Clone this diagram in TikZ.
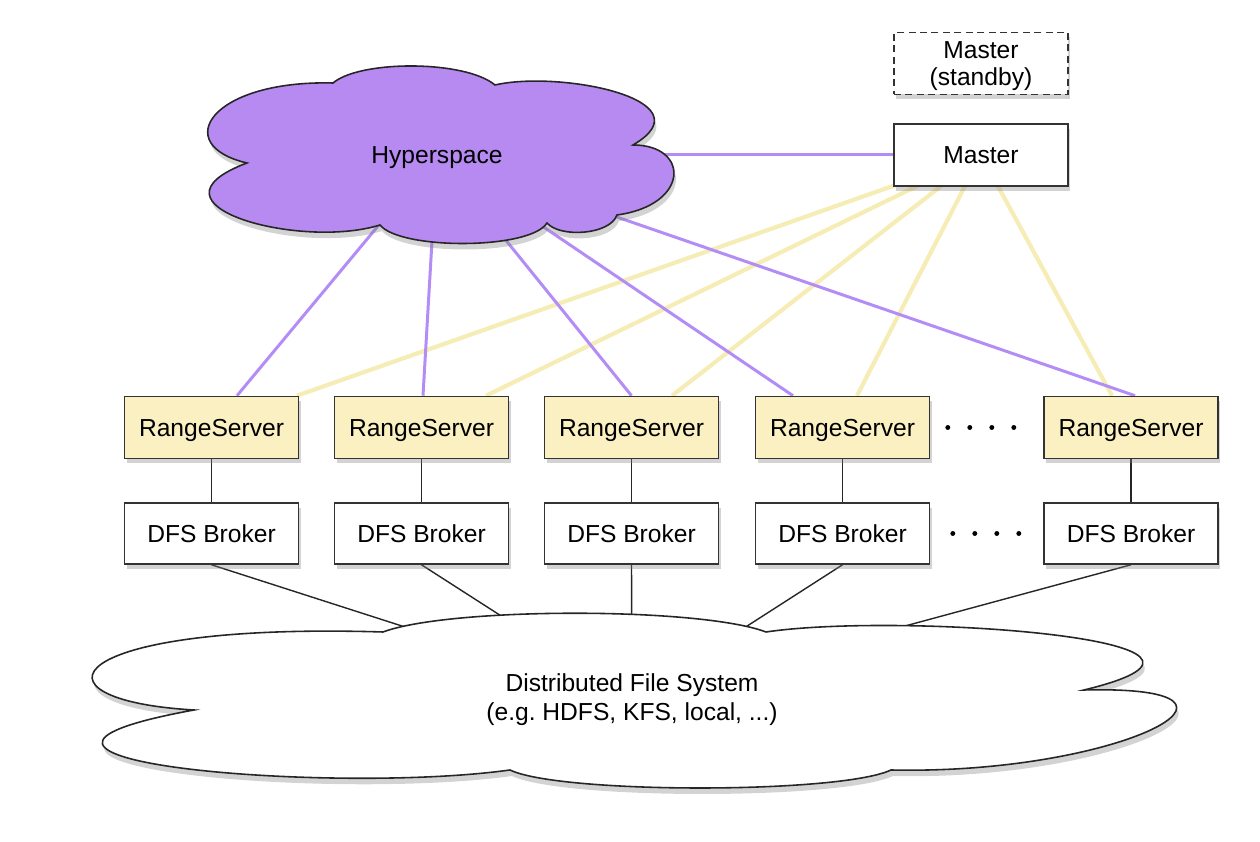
\documentclass[tikz,border=0pt]{standalone}
\usepackage{fontspec}
\setmainfont{Liberation Sans}
\usetikzlibrary{shadows, backgrounds}
\definecolor{hyperpurple}{HTML}{B68AF0}
\definecolor{linkpurple}{HTML}{B38CF5}
\definecolor{serveryellow}{HTML}{FAF0C2}
\definecolor{linkyellow}{HTML}{F6EDB6}

\begin{document}
\begin{tikzpicture}[
  box/.style={rectangle, draw=black!80, line width=0.9pt, fill=white, minimum width=3.48cm, minimum height=1.24cm, inner sep=2pt, text depth=0pt, font=\fontsize{14}{15.5}\selectfont, align=center, drop shadow={shadow xshift=0.04cm, shadow yshift=-0.1cm, opacity=0.35}},
  serverbox/.style={box, fill=serveryellow},
  purplelink/.style={linkpurple, line width=1.7pt},
  yellowlink/.style={linkyellow, line width=2.4pt},
  blacklink/.style={black!85, line width=0.8pt},
  dotrow/.style={line width=2.8pt, line cap=round, dash pattern=on 0pt off 0.44cm},
  cloudpath/.style={draw=black!85, line width=0.9pt, drop shadow={shadow xshift=0.04cm, shadow yshift=-0.12cm, opacity=0.35}},
  cloudtext/.style={font=\fontsize{14}{16.5}\selectfont, align=center}
]
\useasboundingbox (0,0) rectangle (25.2,16.84);

\draw[cloudpath, fill=hyperpurple] (4.94,13.58) .. controls (3.40,13.94) and (4.20,15.24) .. (6.66,15.18)
  .. controls (7.20,15.64) and (9.30,15.64) .. (9.90,15.14)
  .. controls (11.20,15.44) and (14.20,14.84) .. (12.66,13.94)
  .. controls (13.80,13.94) and (13.80,12.74) .. (12.34,12.54)
  .. controls (12.20,12.14) and (11.20,12.08) .. (10.94,12.38)
  .. controls (10.60,11.84) and (8.00,11.84) .. (7.60,12.34)
  .. controls (6.00,11.84) and (2.70,12.74) .. (4.94,13.58) -- cycle;
\node[cloudtext, text depth=0pt] (hyperspace) at (8.74,13.74) {Hyperspace};

\draw[cloudpath, fill=white] (3.88,2.64) .. controls (0.40,2.84) and (1.20,4.40) .. (7.66,4.20)
  .. controls (9.00,4.70) and (14.00,4.70) .. (15.32,4.20)
  .. controls (18.00,4.60) and (25.80,4.04) .. (21.68,3.04)
  .. controls (25.80,3.14) and (22.40,1.34) .. (17.82,1.44)
  .. controls (16.80,0.96) and (11.20,0.96) .. (10.20,1.44)
  .. controls (6.60,0.94) and (-1.60,1.64) .. (3.88,2.64) -- cycle;
\node[cloudtext] (filesystem) at (12.64,2.84) {Distributed File System\\(e.g.\ HDFS, KFS, local, ...)};

\node[box, dash pattern=on 4pt off 2.5pt] (standby) at (19.62,15.57) {Master\\(standby)};
\node[box] (master) at (19.62,13.74) {Master};

\node[serverbox] (rs1) at (4.23,8.29) {RangeServer};
\node[serverbox] (rs2) at (8.43,8.29) {RangeServer};
\node[serverbox] (rs3) at (12.63,8.29) {RangeServer};
\node[serverbox] (rs4) at (16.85,8.29) {RangeServer};
\node[serverbox] (rs5) at (22.62,8.29) {RangeServer};

\node[box, minimum height=1.22cm] (broker1) at (4.23,6.17) {DFS Broker};
\node[box, minimum height=1.22cm] (broker2) at (8.43,6.17) {DFS Broker};
\node[box, minimum height=1.22cm] (broker3) at (12.63,6.17) {DFS Broker};
\node[box, minimum height=1.22cm] (broker4) at (16.85,6.17) {DFS Broker};
\node[box, minimum height=1.22cm] (broker5) at (22.62,6.17) {DFS Broker};

\draw[dotrow] ([xshift=0.35cm]rs4.east) -- ([xshift=-0.55cm]rs5.west);
\draw[dotrow] ([xshift=0.45cm]broker4.east) -- ([xshift=-0.45cm]broker5.west);

\begin{scope}[on background layer]
\draw[yellowlink] (master.center) -- ([xshift=1.71cm]rs1.north);
\draw[yellowlink] (master.center) -- ([xshift=1.29cm]rs2.north);
\draw[yellowlink] (master.center) -- ([xshift=0.81cm]rs3.north);
\draw[yellowlink] (master.center) -- ([xshift=0.29cm]rs4.north);
\draw[yellowlink] (master.center) -- ([xshift=-0.38cm]rs5.north);
\draw[purplelink] (hyperspace.center) -- (master.center);
\draw[purplelink] (hyperspace.center) -- ([xshift=0.51cm]rs1.north);
\draw[purplelink] (hyperspace.center) -- ([xshift=0.03cm]rs2.north);
\draw[purplelink] (hyperspace.center) -- (rs3.north);
\draw[purplelink] (hyperspace.center) -- ([xshift=-0.99cm]rs4.north);
\draw[purplelink] (hyperspace.center) -- ([xshift=0.08cm]rs5.north);
\draw[blacklink] (rs1) -- (broker1);
\draw[blacklink] (rs2) -- (broker2);
\draw[blacklink] (rs3) -- (broker3);
\draw[blacklink] (rs4) -- (broker4);
\draw[blacklink] (rs5) -- (broker5);
\draw[blacklink] (broker1.south) -- (filesystem.center);
\draw[blacklink] (broker2.south) -- (filesystem.center);
\draw[blacklink] (broker3.south) -- (filesystem.center);
\draw[blacklink] (broker4.south) -- (filesystem.center);
\draw[blacklink] (broker5.south) -- (filesystem.center);
\end{scope}
\end{tikzpicture}
\end{document}
